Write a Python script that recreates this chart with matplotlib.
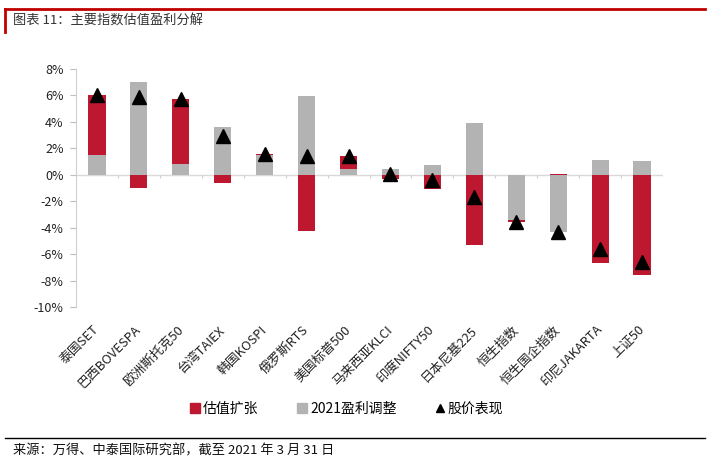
import matplotlib
matplotlib.use("Agg")
import matplotlib.pyplot as plt
import numpy as np
from matplotlib.lines import Line2D

plt.rcParams['font.family'] = ['Noto Sans CJK SC', 'DejaVu Sans']

categories = ['泰国SET', '巴西BOVESPA', '欧洲斯托克50', '台湾TAIEX', '韩国KOSPI', '俄罗斯RTS',
              '美国标普500', '马来西亚KLCI', '印度NIFTY50', '日本尼基225', '恒生指数',
              '恒生国企指数', '印尼JAKARTA', '上证50']
valuation = [4.5, -1.0, 4.9, -0.6, 0.1, -4.25, 1.0, -0.35, -1.05, -5.3, -0.15, 0.05, -6.65, -7.55]
earnings = [1.5, 7.0, 0.8, 3.6, 1.5, 5.95, 0.45, 0.45, 0.75, 3.9, -3.4, -4.3, 1.1, 1.05]
price = [6.0, 5.85, 5.7, 2.9, 1.6, 1.4, 1.4, 0.05, -0.4, -1.65, -3.6, -4.3, -5.65, -6.6]
yticks = [8, 6, 4, 2, 0, -2, -4, -6, -8, -10]
legend_labels = ['估值扩张', '2021盈利调整', '股价表现']

RED = '#BD1830'
GRAY = '#B3B3B3'
W, H = 709, 466

fig = plt.figure(figsize=(W / 100, H / 100), dpi=100)
ax = fig.add_axes([76 / W, (H - 307) / H, (663 - 76) / W, (307 - 69) / H])

x = np.arange(len(categories))
earn = np.array(earnings)
val = np.array(valuation)
bottom_val = np.where(np.sign(val) == np.sign(earn), earn, 0.0)

ax.bar(x, earn, width=0.41, color=GRAY, zorder=2)
ax.bar(x, val, width=0.41, bottom=bottom_val, color=RED, zorder=2)
ax.plot(x, price, linestyle='none', marker='^', markersize=10, color='black', zorder=3)

ax.set_xlim(-0.5, len(categories) - 0.5)
ax.set_ylim(-10, 8)
ax.set_yticks(yticks)
ax.set_yticklabels([f'{v}%' for v in yticks], fontsize=9, color='#222222')
ax.tick_params(axis='y', length=4, color='#BFBFBF', width=0.8, pad=5)

ax.set_xticks(x)
ax.set_xticklabels(categories, rotation=45, ha='right', va='center',
                   rotation_mode='anchor', fontsize=9.3, color='#222222')
ax.tick_params(axis='x', length=0, pad=15)

for s in ['top', 'right', 'bottom']:
    ax.spines[s].set_visible(False)
ax.spines['left'].set_color('#D0D0D0')
ax.spines['left'].set_linewidth(0.8)

ax.axhline(0, color='#D9D9D9', linewidth=1, zorder=1)
bounds = np.arange(len(categories) + 1) - 0.5
ax.vlines(bounds[1:], -0.25, 0, color='#D0D0D0', linewidth=0.8, zorder=1)

handles = [
    Line2D([], [], linestyle='none', marker='s', markersize=7, color=RED),
    Line2D([], [], linestyle='none', marker='s', markersize=7, color=GRAY),
    Line2D([], [], linestyle='none', marker='^', markersize=6, color='black'),
]
fig.legend(handles, legend_labels, loc='center', bbox_to_anchor=(347 / W, 1 - 409 / H),
           ncol=3, frameon=False, fontsize=10, handlelength=0.7, handletextpad=0.2,
           columnspacing=2.8)

# header frame
fig.add_artist(Line2D([5 / W, 705 / W], [1 - 9 / H, 1 - 9 / H], color='#C00000', linewidth=2))
fig.add_artist(Line2D([5 / W, 5 / W], [1 - 9 / H, 1 - 32 / H], color='#C00000', linewidth=2))
fig.text(13 / W, 1 - 21 / H, '图表 11：主要指数估值盈利分解', fontsize=9.5, color='#333333',
         ha='left', va='center')

# footer
fig.add_artist(Line2D([5 / W, 705 / W], [1 - 438 / H, 1 - 438 / H], color='black', linewidth=1))
fig.text(13 / W, 1 - 451 / H, '来源：万得、中泰国际研究部，截至 2021 年 3 月 31 日', fontsize=9.5,
         color='#111111', ha='left', va='center')

fig.savefig('out.png', dpi=100)
